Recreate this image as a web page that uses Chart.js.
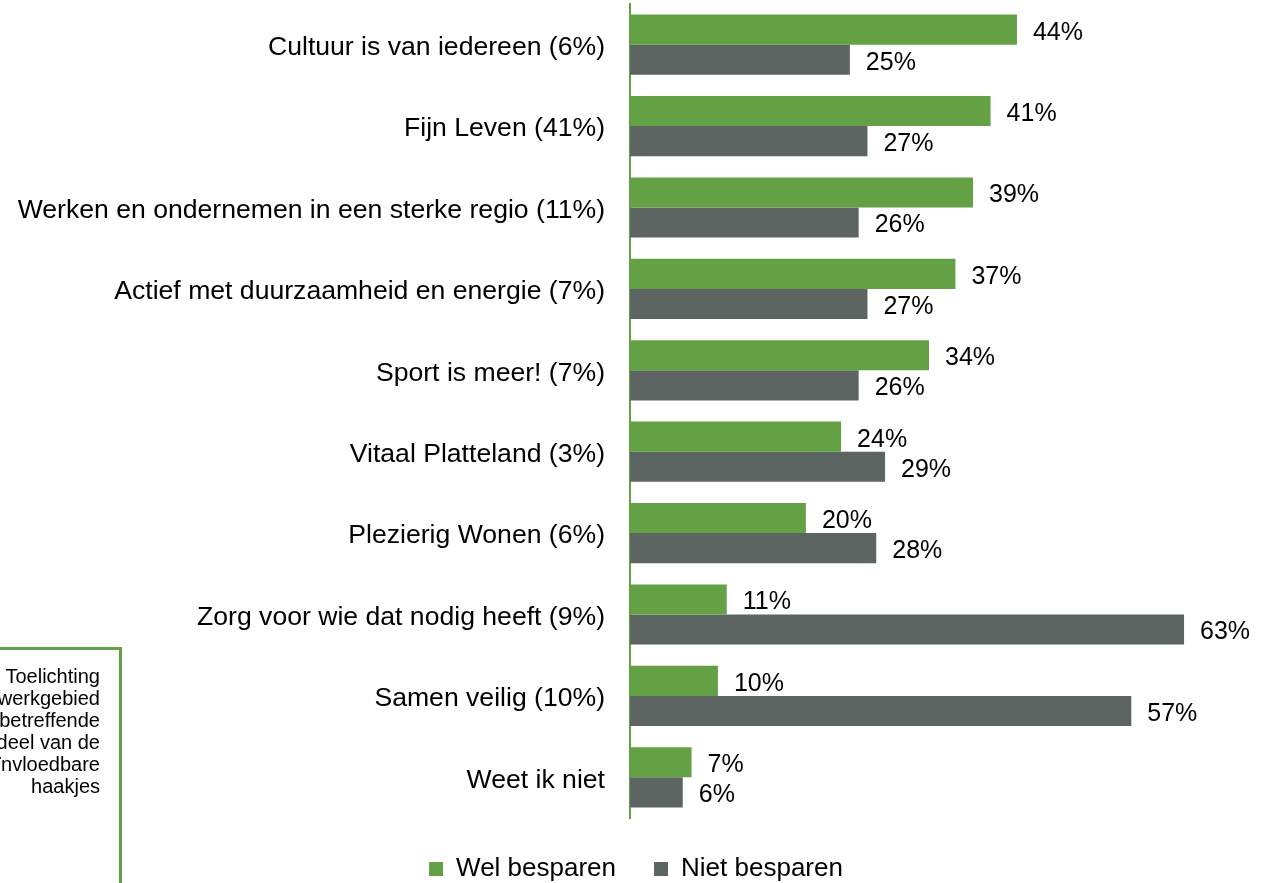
<!DOCTYPE html>
<html>
<head>
<meta charset="utf-8">
<script src="https://cdn.jsdelivr.net/npm/chart.js@4"></script>
<style>
  html, body { margin: 0; padding: 0; background: #fff; overflow: hidden; }
  #wrap { position: relative; width: 1272px; height: 883px; }
  #note {
    position: absolute; left: -200px; top: 647px; width: 322px; height: 300px;
    box-sizing: border-box; border: 3px solid #64a144; border-left: none; border-bottom: none;
    padding: 15px 19px 0 0; text-align: right; white-space: nowrap;
    font: 20px "Liberation Sans", Arial, sans-serif; line-height: 22px; color: #000;
  }
</style>
</head>
<body>
<div id="wrap">
  <canvas id="chart" width="1272" height="883"></canvas>
  <div id="note">Toelichting<br>werkgebied<br>betreffende<br>deel van de<br>beïnvloedbare<br>haakjes</div>
</div>
<script>
const categories = [
    'Cultuur is van iedereen (6%)',
    'Fijn Leven (41%)',
    'Werken en ondernemen in een sterke regio (11%)',
    'Actief met duurzaamheid en energie (7%)',
    'Sport is meer! (7%)',
    'Vitaal Platteland (3%)',
    'Plezierig Wonen (6%)',
    'Zorg voor wie dat nodig heeft (9%)',
    'Samen veilig (10%)',
    'Weet ik niet'
];
const welBesparen = [44, 41, 39, 37, 34, 24, 20, 11, 10, 7];
const nietBesparen = [25, 27, 26, 27, 26, 29, 28, 63, 57, 6];
const seriesNames = ['Wel besparen', 'Niet besparen'];

const GREEN = '#64a144';
const GREY = '#5d6563';
const FONT = '"Liberation Sans", Arial, sans-serif';

// value labels next to each bar
const valueLabels = {
    id: 'valueLabels',
    afterDatasetsDraw(chart) {
        const ctx = chart.ctx;
        ctx.save();
        ctx.font = '25px ' + FONT;
        ctx.fillStyle = '#000';
        ctx.textBaseline = 'middle';
        chart.data.datasets.forEach((ds, i) => {
            chart.getDatasetMeta(i).data.forEach((bar, j) => {
                ctx.fillText(ds.data[j] + '%', bar.x + 16, bar.y + 3);
            });
        });
        ctx.restore();
    }
};

// push the legend down a bit below the plot
const legendGap = {
    id: 'legendGap',
    afterInit(chart) {
        const legend = chart.legend;
        const fit = legend.fit;
        legend.fit = function () {
            fit.call(this);
            this.height = 65;
        };
    }
};

new Chart(document.getElementById('chart'), {
    type: 'bar',
    data: {
        labels: categories,
        datasets: [
            { label: seriesNames[0], data: welBesparen, backgroundColor: GREEN },
            { label: seriesNames[1], data: nietBesparen, backgroundColor: GREY }
        ]
    },
    options: {
        indexAxis: 'y',
        responsive: false,
        animation: false,
        layout: { padding: { top: 4, right: 0, left: 0, bottom: 0 } },
        datasets: { bar: { barPercentage: 1, categoryPercentage: 0.74 } },
        scales: {
            x: { display: false, min: 0, max: 73 },
            y: {
                grid: { display: false, drawTicks: false },
                border: { display: true, color: GREEN, width: 2 },
                ticks: { color: '#000', padding: 25, labelOffset: 3, font: { family: FONT, size: 26.6 } },
                afterFit(scale) {
                    scale.width = 630;
                    scale.paddingTop = 0;
                    scale.paddingBottom = 0;
                }
            }
        },
        plugins: {
            legend: {
                position: 'bottom',
                labels: {
                    boxWidth: 14, boxHeight: 14, padding: 38, color: '#000',
                    font: { family: FONT, size: 26 }
                }
            },
            tooltip: { enabled: false }
        }
    },
    plugins: [valueLabels, legendGap]
});
</script>
</body>
</html>
